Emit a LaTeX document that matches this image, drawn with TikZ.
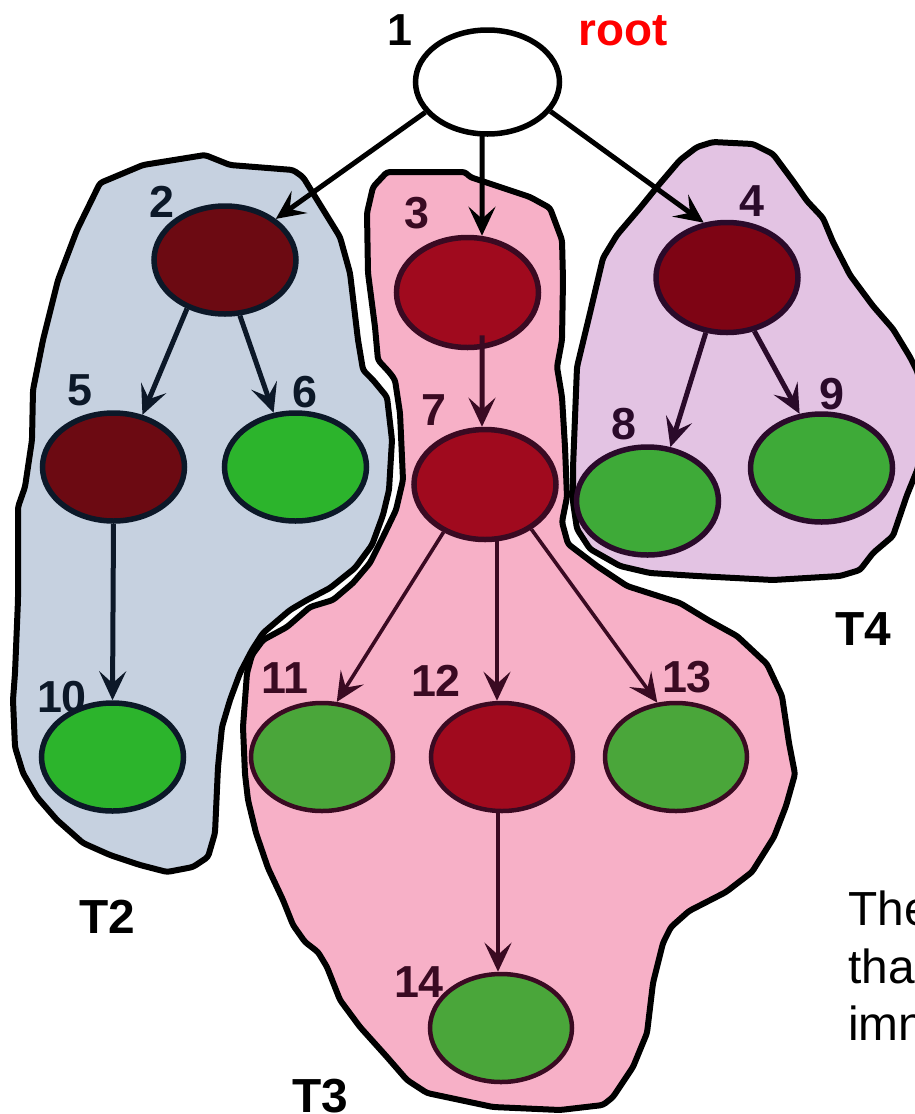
\documentclass[tikz,border=0pt]{standalone}
\usepackage{fontspec}
\setmainfont{Liberation Sans}
\usetikzlibrary{shapes.geometric,arrows.meta,calc}
\definecolor{blobB}{HTML}{C6D1E0}
\definecolor{blobP}{HTML}{F7B0C7}
\definecolor{blobV}{HTML}{E3C3E3}
\definecolor{redB}{HTML}{6C0A12}
\definecolor{greenB}{HTML}{2CB42C}
\definecolor{lineB}{HTML}{0C1828}
\definecolor{redP}{HTML}{A00A1E}
\definecolor{greenP}{HTML}{4AA63A}
\definecolor{lineP}{HTML}{3A0A22}
\definecolor{redV}{HTML}{7E0414}
\definecolor{greenV}{HTML}{3EAA38}
\definecolor{lineV}{HTML}{2A0A2A}
\definecolor{rootred}{HTML}{FF0000}
\begin{document}
\begin{tikzpicture}[x=1bp,y=-1bp,
  blob/.style={line width=6bp, draw=black, line join=round, rounded corners=3bp},
  vert/.style={ellipse, draw, line width=5.5bp, inner sep=0pt, minimum width=142bp, minimum height=108bp},
  nodeB/.style={vert, draw=lineB, fill=#1},
  nodeP/.style={vert, draw=lineP, fill=#1, line width=4.5bp},
  nodeV/.style={vert, draw=lineV, fill=#1},
  arr/.style={-{Stealth[length=29bp,width=27bp,inset=12bp]}, line width=5bp},
  lab/.style={font=\bfseries\fontsize{45}{54}\selectfont, inner sep=0pt, anchor=base},
  tlab/.style={font=\bfseries\fontsize{48}{56}\selectfont, inner sep=0pt, anchor=base, text=black},
  txt/.style={font=\fontsize{48}{57}\selectfont, inner sep=0pt, anchor=base west, text=black}]
\useasboundingbox (0,0) rectangle (915,1114);
% ---------- blobs ----------
\path[blob, fill=blobB] (100,183) -- (143,165) -- (205,155) -- (230,165) -- (293,170) -- (303,177) -- (340,237) -- (350,273) -- (358,340) -- (363,370) -- (373,380) -- (387,397) -- (392,440) -- (389,490) -- (383,515) -- (372,545) -- (355,568) -- (330,588) -- (307,600) -- (290,610) -- (263,633) -- (252,650) -- (240,673) -- (230,700) -- (222,727) -- (218,767) -- (215,833) -- (208,857) -- (193,867) -- (167,872) -- (140,865) -- (110,855) -- (83,843) -- (57,820) -- (37,797) -- (23,773) -- (15,747) -- (13,700) -- (15,673) -- (18,600) -- (18,507) -- (25,487) -- (32,440) -- (33,390) -- (43,340) -- (58,280) -- (77,230) -- cycle;
\path[blob, fill=blobP] (387,172) -- (465,172) -- (470,177) -- (503,188) -- (530,197) -- (550,208) -- (562,240) -- (563,280) -- (562,340) -- (557,367) -- (562,397) -- (565,447) -- (567,497) -- (562,522) -- (568,544) -- (597,566) -- (627,586) -- (680,603) -- (708,620) -- (737,636) -- (767,664) -- (782,696) -- (789,743) -- (795,774) -- (786,806) -- (774,837) -- (752,872) -- (726,892) -- (689,911) -- (671,927) -- (663,943) -- (653,983) -- (647,1033) -- (633,1067) -- (613,1097) -- (603,1105) -- (560,1110) -- (493,1107) -- (427,1093) -- (407,1080) -- (387,1057) -- (360,1027) -- (340,1000) -- (327,967) -- (318,952) -- (305,942) -- (293,925) -- (283,900) -- (268,868) -- (256,833) -- (248,800) -- (245,774) -- (243,727) -- (245,700) -- (247,673) -- (252,655) -- (263,640) -- (287,627) -- (310,607) -- (333,600) -- (353,583) -- (370,563) -- (383,537) -- (396,510) -- (403,480) -- (400,413) -- (395,380) -- (390,373) -- (378,360) -- (375,327) -- (368,273) -- (367,213) -- (373,187) -- cycle;
\path[blob, fill=blobV] (713,142) -- (753,144) -- (773,154) -- (793,181) -- (807,201) -- (823,218) -- (833,242) -- (850,275) -- (873,306) -- (893,329) -- (910,357) -- (918,373) -- (922,420) -- (918,468) -- (907,495) -- (893,536) -- (873,553) -- (860,570) -- (840,576) -- (773,580) -- (697,576) -- (650,573) -- (620,566) -- (590,549) -- (577,529) -- (573,502) -- (573,468) -- (577,367) -- (590,313) -- (603,258) -- (617,235) -- (640,208) -- (657,187) -- (680,160) -- (697,147) -- cycle;
% ---------- vertices ----------
\node[vert, draw=black, fill=white, minimum width=144bp, minimum height=104bp] (n1) at (487.5,82) {};
\node[nodeB=redB] (n2) at (225,260) {};
\node[nodeP=redP, line width=5.5bp, minimum height=110bp] (n3) at (467.5,292.5) {};
\node[nodeV=redV, minimum height=110bp] (n4) at (727,277.5) {};
\node[nodeB=redB] (n5) at (113.5,467) {};
\node[nodeB=greenB] (n6) at (295.5,467) {};
\node[nodeP=redP, line width=5.5bp, minimum height=110bp] (n7) at (485,484.5) {};
\node[nodeV=greenV] (n8) at (647.5,501) {};
\node[nodeV=greenV] (n9) at (821.5,468) {};
\node[nodeB=greenB] (n10) at (112.5,757) {};
\node[nodeP=greenP] (n11) at (322,757) {};
\node[nodeP=redP] (n12) at (502,757) {};
\node[nodeP=greenP] (n13) at (676,757) {};
\node[nodeP=greenP] (n14) at (501,1028) {};
% ---------- edges ----------
\draw[arr, black] (n1.206) -- (n2.39);
\draw[arr, black] ($(n1.south)+(-5.5,-2)$) -- ($(n3.north)+(14.5,1)$);
\draw[arr, black] (n1.335) -- (n4.113);
\draw[arr, lineB] (n2.232) -- (n5.61);
\draw[arr, lineB] (n2.285) -- (n6.112);
\draw[arr, lineP] ($(n3.south)+(14.5,-15)$) -- ($(n7.north)+(-3,0)$);
\draw[arr, lineV] (n4.249) -- (n8.67);
\draw[arr, lineV] (n4.297) -- (n9.112);
\draw[arr, lineB] (n5.south) -- (n10.north);
\draw[arr, lineP, line width=3.6bp] (n7.229) -- (n11.75);
\draw[arr, lineP, line width=3.6bp] ($(n7.south)+(12,-1)$) -- ($(n12.north)+(-5,0)$);
\draw[arr, lineP, line width=3.6bp] (n7.316) -- (n13.109);
\draw[arr, lineP, line width=4.2bp] ($(n12.south)+(-4,0)$) -- ($(n14.north)+(-3,0)$);
% ---------- labels ----------
\node[lab, text=black] (l1) at (400,45) {1};
\node[lab, text=rootred, font=\bfseries\fontsize{46}{54}\selectfont] (lroot) at (623,45) {root};
\node[lab, text=lineB] (l2) at (162,217) {2};
\node[lab, text=lineP] (l3) at (417,228) {3};
\node[lab, text=lineV] (l4) at (752,216) {4};
\node[lab, text=lineB] (l5) at (80,405) {5};
\node[lab, text=lineB] (l6) at (305,407) {6};
\node[lab, text=lineP] (l7) at (434,425) {7};
\node[lab, text=lineV] (l8) at (624,439) {8};
\node[lab, text=lineV] (l9) at (832,409) {9};
\node[lab, text=lineB] (l10) at (62,712) {10};
\node[lab, text=lineP] (l11) at (285,693) {11};
\node[lab, text=lineP] (l12) at (436,696) {12};
\node[lab, text=lineP] (l13) at (687,692) {13};
\node[lab, text=lineP] (l14) at (419,997) {14};
\node[tlab] (t2) at (107,933) {T2};
\node[tlab] (t3) at (320,1112) {T3};
\node[tlab] (t4) at (863,645) {T4};
\node[txt] (x1) at (848,925) {The};
\node[txt] (x2) at (848,983) {tha};
\node[txt] (x3) at (848,1040) {imn};
\end{tikzpicture}
\end{document}
